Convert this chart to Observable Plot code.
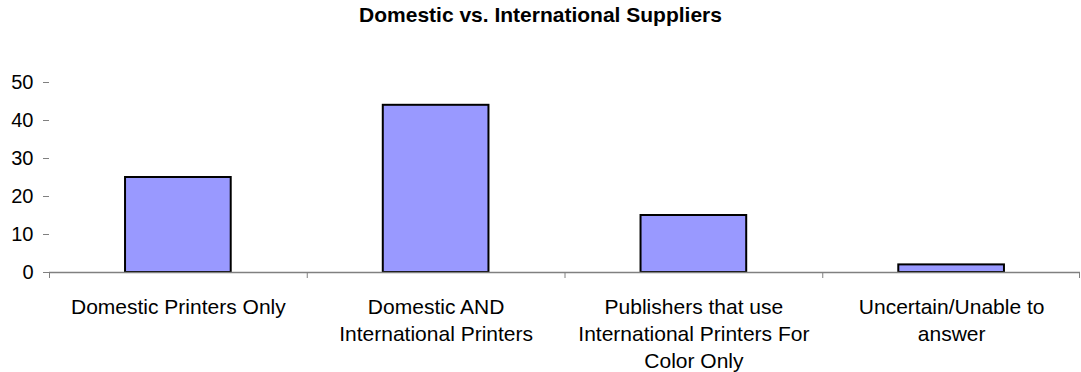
<!DOCTYPE html>
<html>
<head>
<meta charset="utf-8">
<script src="https://cdn.jsdelivr.net/npm/d3@7"></script>
<script src="https://cdn.jsdelivr.net/npm/@observablehq/plot@0.6"></script>
<style>
  html, body { margin: 0; padding: 0; background: #fff; }
  #title { font: bold 21px "Liberation Sans", Arial, sans-serif; text-align: center; height: 30px; line-height: 30px; color: #000; width: 1081px; }
  svg { display: block; }
</style>
</head>
<body>
<div id="title">Domestic vs. International Suppliers</div>
<div id="chart"></div>
<script>
const categories = [
  "Domestic Printers Only",
  "Domestic AND\nInternational Printers",
  "Publishers that use\nInternational Printers For\nColor Only",
  "Uncertain/Unable to\nanswer"
];
const values = [25, 44, 15, 2];
const yTicks = [0, 10, 20, 30, 40, 50];

const data = categories.map((c, i) => ({category: c, value: values[i]}));

const width = 1081, height = 342;
const marginLeft = 49, marginRight = 1;
const step = (width - marginLeft - marginRight) / categories.length;

const chart = Plot.plot({
  width, height,
  marginLeft, marginRight, marginTop: 52, marginBottom: 100,
  style: {fontFamily: '"Liberation Sans", Arial, sans-serif', fontSize: "21px", color: "#000", background: "#fff", overflow: "visible"},
  x: {domain: categories, paddingInner: 0.59, paddingOuter: 0.295, round: false, label: null},
  y: {domain: [0, 50], label: null},
  marks: [
    Plot.barY(data, {x: "category", y: "value", fill: "#9999FF", stroke: "#000", strokeWidth: 2}),
    Plot.ruleY([0], {stroke: "#808080", strokeWidth: 1.5}),
    Plot.ruleX(categories, {x: d => d, y1: 0, y2: 0, dx: -step / 2, insetBottom: -6, stroke: "#808080"}),
    Plot.ruleX([categories[categories.length - 1]], {x: d => d, y1: 0, y2: 0, dx: step / 2 - 1, insetBottom: -6, stroke: "#808080"}),
    Plot.axisY({ticks: yTicks, tickSize: 6, tickPadding: 10, stroke: "#808080", fontSize: 20, label: null}),
    Plot.ruleX([0], {frameAnchor: "left", stroke: "#808080", strokeWidth: 1.5}),
    Plot.axisX({tickSize: 0, tickPadding: 22, fontSize: 21, lineHeight: 1.29, label: null})
  ]
});
document.getElementById("chart").appendChild(chart);
</script>
</body>
</html>
